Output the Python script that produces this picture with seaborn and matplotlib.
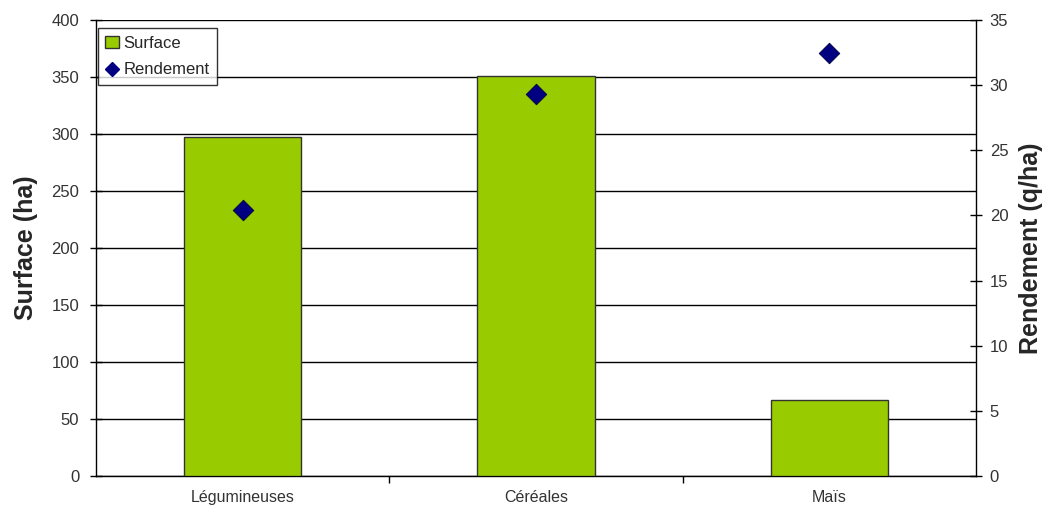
import matplotlib
matplotlib.use("Agg")
import matplotlib.pyplot as plt
import seaborn as sns
import pandas as pd
from matplotlib.lines import Line2D
from matplotlib.patches import Patch

# data
categories = ["Légumineuses", "Céréales", "Maïs"]
surface = [297, 351, 67]        # ha
rendement = [20.4, 29.3, 32.5]  # q/ha

df = pd.DataFrame({"culture": categories, "surface": surface, "rendement": rendement})

sns.set_style("white")
plt.rcParams["font.family"] = ["Liberation Sans", "DejaVu Sans"]

bar_color = "#99CC00"
pt_color = "#000080"

fig = plt.figure(figsize=(10.5, 5.16), dpi=100)
ax = fig.add_axes([0.0914, 0.0775, 0.838, 0.8837])

sns.barplot(data=df, x="culture", y="surface", color=bar_color, width=0.4,
            edgecolor="#333333", linewidth=1.0, saturation=1, ax=ax, zorder=3)
ax.set_ylim(0, 400)
ax.set_xlim(-0.5, 2.5)
ax.set_yticks(range(0, 401, 50))
ax.yaxis.grid(True, color="black", linewidth=1.0)
ax.set_axisbelow(True)
for s in ["top", "right"]:
    ax.spines[s].set_visible(False)
for s in ["left", "bottom"]:
    ax.spines[s].set_color("black")
    ax.spines[s].set_linewidth(1.0)
ax.set_xlabel("")
ax.set_ylabel("Surface (ha)", fontsize=18, fontweight="bold", labelpad=10)
ax.tick_params(axis="y", direction="inout", length=8, width=1, labelsize=12, colors="black",
               left=True, pad=8)
ax.tick_params(axis="y", labelcolor="#333333")
ax.tick_params(axis="x", which="major", length=0, labelsize=11.5, pad=10, labelcolor="#333333")
ax.set_xticks([0.5, 1.5], minor=True)
ax.tick_params(axis="x", which="minor", direction="out", length=5, width=1, color="black", bottom=True)

ax2 = ax.twinx()
sns.scatterplot(data=df, x="culture", y="rendement", marker="D", s=110, color=pt_color,
                edgecolor="#000040", linewidth=0.6, ax=ax2, zorder=5, legend=False)
ax2.set_ylim(0, 35)
ax2.set_xlim(-0.5, 2.5)
ax2.set_yticks(range(0, 36, 5))
for s in ["top", "left", "bottom"]:
    ax2.spines[s].set_visible(False)
ax2.spines["right"].set_color("black")
ax2.spines["right"].set_linewidth(1.0)
ax2.set_ylabel("Rendement (q/ha)", fontsize=18, fontweight="bold", labelpad=8)
ax2.tick_params(axis="y", direction="inout", length=8, width=1, labelsize=12, colors="black",
                right=True, pad=6)
ax2.tick_params(axis="y", labelcolor="#333333")
ax2.set_xlabel("")

handles = [
    Patch(facecolor=bar_color, edgecolor="#333333", label="Surface"),
    Line2D([], [], marker="D", linestyle="", color=pt_color, markersize=7, label="Rendement"),
]
leg = ax2.legend(handles=handles, loc="upper left", bbox_to_anchor=(0.002, 0.982),
                 frameon=True, fancybox=False, edgecolor="black", fontsize=12,
                 handlelength=0.8, handletextpad=0.3, borderpad=0.45, labelspacing=0.7,
                 borderaxespad=0)
leg.get_frame().set_linewidth(1.0)

fig.savefig("out.png", dpi=100)
